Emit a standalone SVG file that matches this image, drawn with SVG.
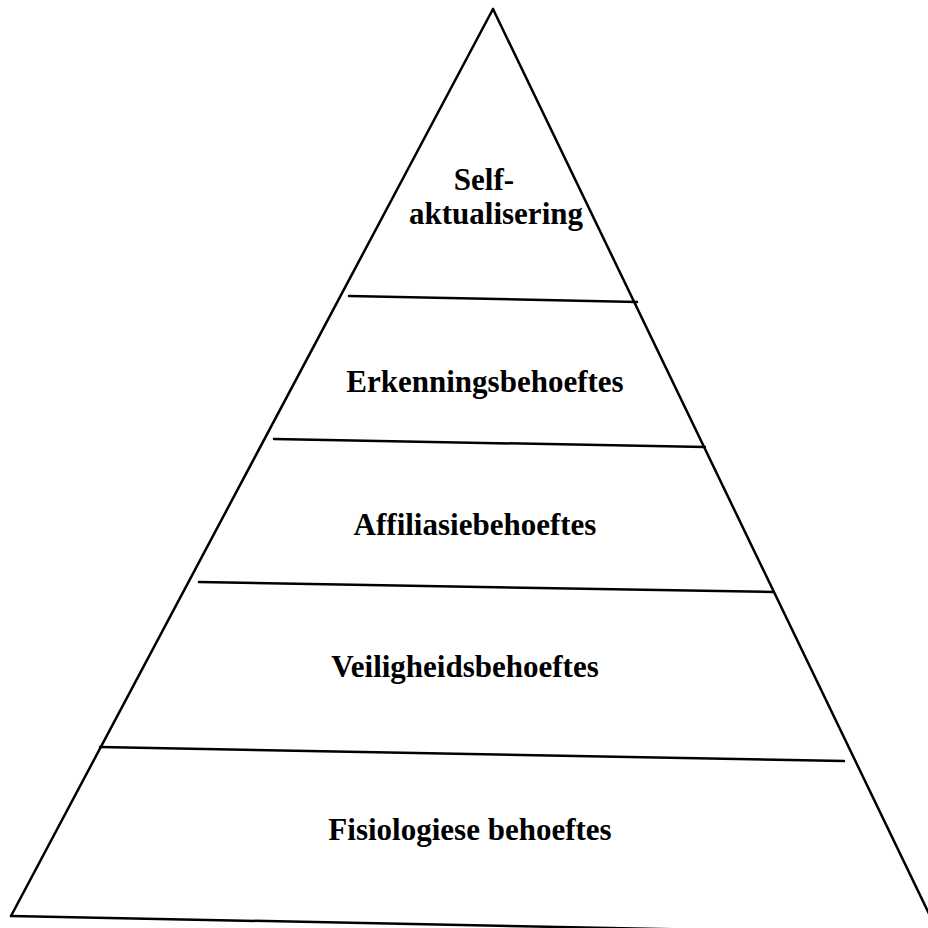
<svg xmlns="http://www.w3.org/2000/svg" width="928" height="928" viewBox="0 0 928 928">
<style>
.ln{stroke:#000;stroke-width:2.5;fill:none;stroke-linecap:round}
.lb{font-family:"Liberation Serif","Times New Roman",serif;font-weight:bold;font-size:31px;fill:#000;text-anchor:middle}
</style>
<rect width="928" height="928" fill="#fff"/>
<g id="connectors">
<path class="ln" d="M493 9 L11 916"/>
<path class="ln" d="M493 9 L932 920"/>
<path class="ln" d="M11 916 L860 933"/>
<path class="ln" d="M349 296 L637 302"/>
<path class="ln" d="M274 439 L705 447"/>
<path class="ln" d="M199 582 L773 592"/>
<path class="ln" d="M100 747 L844 761"/>
</g>
<g id="self-aktualisering">
<text class="lb" x="484" y="190">Self-</text>
<text class="lb" x="496" y="224">aktualisering</text>
</g>
<g id="erkenningsbehoeftes">
<text class="lb" x="485" y="392">Erkenningsbehoeftes</text>
</g>
<g id="affiliasiebehoeftes">
<text class="lb" x="475" y="535">Affiliasiebehoeftes</text>
</g>
<g id="veiligheidsbehoeftes">
<text class="lb" x="465" y="677">Veiligheidsbehoeftes</text>
</g>
<g id="fisiologiese-behoeftes">
<text class="lb" x="470" y="840">Fisiologiese behoeftes</text>
</g>
</svg>
